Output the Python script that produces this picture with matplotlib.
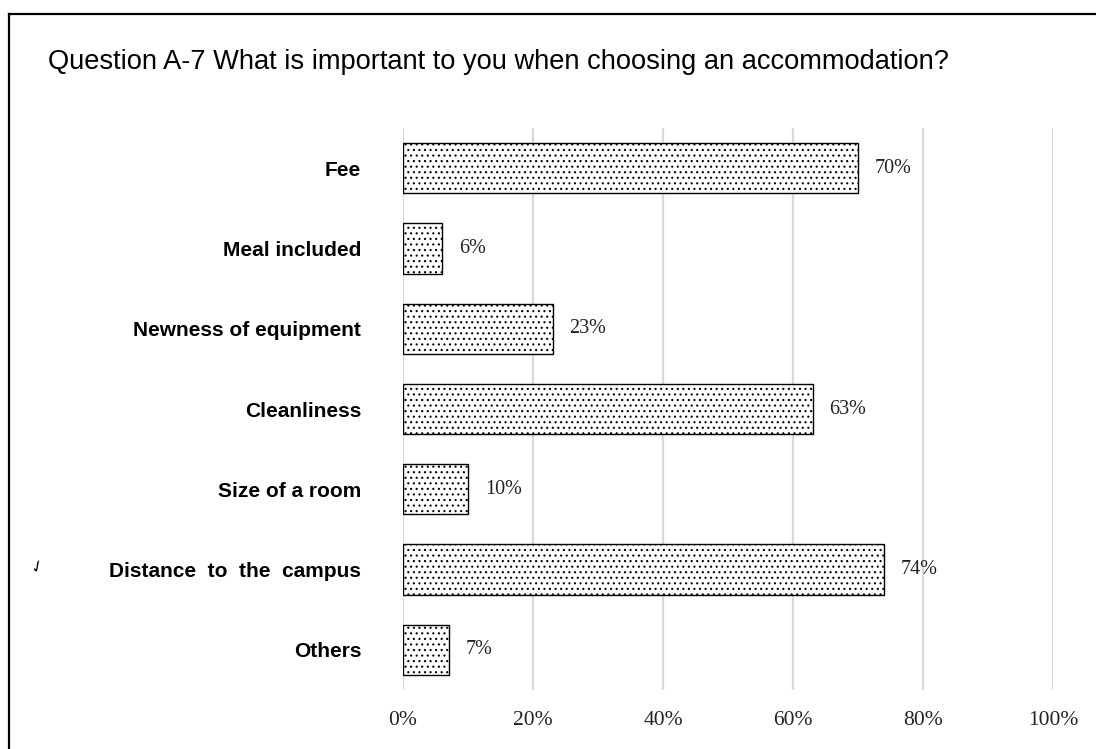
import matplotlib.pyplot as plt
from matplotlib.lines import Line2D
from matplotlib.ticker import FuncFormatter

TITLE = "Question A-7 What is important to you when choosing an accommodation?"
categories = ["Fee", "Meal included", "Newness of equipment", "Cleanliness",
              "Size of a room", "Distance  to  the  campus", "Others"]
shares = [0.70, 0.06, 0.23, 0.63, 0.10, 0.74, 0.07]
xticks = [0, 0.2, 0.4, 0.6, 0.8, 1.0]

plt.rcParams['hatch.linewidth'] = 0.8
plt.rcParams['hatch.color'] = '#444444'

fig = plt.figure(figsize=(10.96, 7.49), dpi=100)
ax = fig.add_axes([403 / 1096, 1 - 690 / 749, 650 / 1096, 562 / 749])

ypos = list(range(len(categories)))
ax.barh(ypos, shares, height=0.625, color='white', edgecolor='black',
        linewidth=1.0, hatch='...', zorder=3)

for y, v in zip(ypos, shares):
    ax.text(v + 0.026, y, f"{v:.0%}", va='center', ha='left',
            fontsize=14.5, family='Liberation Serif', color='#222222')

ax.set_ylim(len(categories) - 0.5, -0.5)
ax.set_xlim(0, 1)
ax.set_yticks(ypos)
ax.set_yticklabels(categories, fontsize=15, fontweight='bold',
                   family='Liberation Sans')
ax.set_xticks(xticks)
ax.xaxis.set_major_formatter(FuncFormatter(lambda v, _: f"{v:.0%}"))
for lab in ax.get_xticklabels():
    lab.set_family('Liberation Serif')
    lab.set_fontsize(15.5)
    lab.set_color('#222222')
ax.tick_params(axis='y', length=0, pad=30)
ax.tick_params(axis='x', length=0, pad=15)
ax.grid(axis='x', color='#d9d9d9', linewidth=1.6, zorder=0)
for s in ax.spines.values():
    s.set_visible(False)

fig.text(48 / 1096, 1 - 62 / 749, TITLE, fontsize=19.6, family='Liberation Sans',
         va='center', ha='left')

# frame around the chart (only top and left are inside the crop)
fig.add_artist(Line2D([9 / 1096, 9 / 1096], [0, 1 - 14 / 749], color='black', lw=1.6))
fig.add_artist(Line2D([9 / 1096, 1], [1 - 14 / 749, 1 - 14 / 749], color='black', lw=1.6))

# stray mark next to the last category block
fig.text(37 / 1096, 1 - 566 / 749, "\u2713", fontsize=12, rotation=25,
         family='DejaVu Sans', va='center', ha='center')

fig.savefig("out.png", dpi=100)
